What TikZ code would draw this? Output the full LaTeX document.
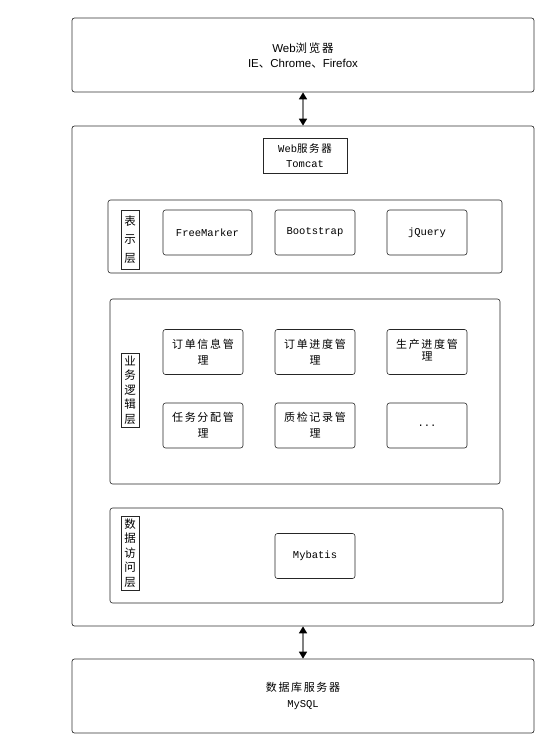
\documentclass[tikz,border=0pt]{standalone}
\usepackage{fontspec}
\setmainfont{Liberation Sans}
\setmonofont{Liberation Mono}
\newfontfamily\cjk[LetterSpace=15]{Noto Sans CJK SC}
\usetikzlibrary{arrows.meta,positioning}

\begin{document}
\begin{tikzpicture}[x=1pt,y=-1pt,
  outer/.style={draw=black!80,line width=0.7pt,rounded corners=2.5pt,inner sep=0pt},
  layer/.style={draw=black!85,line width=0.6pt,rounded corners=2.5pt,inner sep=0pt},
  part/.style={draw=black!85,line width=0.6pt,rounded corners=2.5pt,inner sep=0pt,
    minimum width=80pt,minimum height=45pt,align=center,
    font=\fontsize{10.5}{13}\selectfont\ttfamily},
  cnpart/.style={part,font=\fontsize{11}{16}\selectfont\cjk},
  tag/.style={draw=black!85,line width=0.6pt,inner sep=0pt,minimum width=18pt,
    align=center,fill=white},
  link/.style={draw=black!50,line width=1.6pt,
    {Triangle[color=black,width=8pt,length=7pt]}-{Triangle[color=black,width=8pt,length=7pt]}}]
\useasboundingbox (0,0) rectangle (552,741);

% client side
\node[outer,minimum width=462pt,minimum height=74pt,align=center,
  font=\fontsize{11.5}{15}\selectfont] (browser) at (303,55)
  {Web{\cjk 浏览器}\\IE{\cjk 、}Chrome{\cjk 、}Firefox};

% application server
\node[outer,minimum width=462pt,minimum height=500pt] (server) at (303,376) {};
\node[draw=black!85,line width=0.6pt,inner sep=0pt,minimum width=84pt,minimum height=35pt,
  align=center,font=\fontsize{10.5}{15}\selectfont\ttfamily] (tomcat) at (305,155.5)
  {Web{\cjk 服务器}\\Tomcat};

%% presentation layer
\node[layer,minimum width=394pt,minimum height=73pt] (viewLayer) at (305,236.5) {};
\node[tag,minimum height=59pt,font=\fontsize{11.5}{18.5}\selectfont\cjk] (viewTag) at (130,239.5)
  {表\\示\\层};
\node[part,minimum width=89pt] (freemarker) at (207.5,232.5) {FreeMarker};
\node[part] (bootstrap) at (315,232.5) {Bootstrap};
\node[part] (jquery) at (427,232.5) {jQuery};

%% business layer
\node[layer,minimum width=390pt,minimum height=185pt] (bizLayer) at (305,391.5) {};
\node[tag,minimum height=74pt,font=\fontsize{11.5}{14.5}\selectfont\cjk] (bizTag) at (130,390)
  {业\\务\\逻\\辑\\层};
\node[cnpart] (orderInfo) at (203,352) {订单信息管\\理};
\node[cnpart] (orderProg) at (315,352) {订单进度管\\理};
\node[cnpart] (prodProg) at (427,352) {\raisebox{4pt}{\shortstack{生产进度管\\理}}};
\node[cnpart] (taskAssign) at (203,425.5) {任务分配管\\理};
\node[cnpart] (qualityRec) at (315,425.5) {质检记录管\\理};
\node[part] (more) at (427,425.5) {...};

%% data access layer
\node[layer,minimum width=393pt,minimum height=95pt] (daoLayer) at (306.5,555.5) {};
\node[tag,minimum height=74pt,font=\fontsize{11.5}{14.5}\selectfont\cjk] (daoTag) at (130,553)
  {数\\据\\访\\问\\层};
\node[part] (mybatis) at (315,556) {Mybatis};

% database server
\node[outer,minimum width=462pt,minimum height=74pt,align=center,
  font=\fontsize{10.5}{16}\selectfont\ttfamily] (db) at (303,696)
  {{\fontsize{11}{16}\selectfont\cjk 数据库服务器}\\MySQL};

\draw[link] (browser) -- (server);
\draw[link] (server) -- (db);
\end{tikzpicture}
\end{document}
